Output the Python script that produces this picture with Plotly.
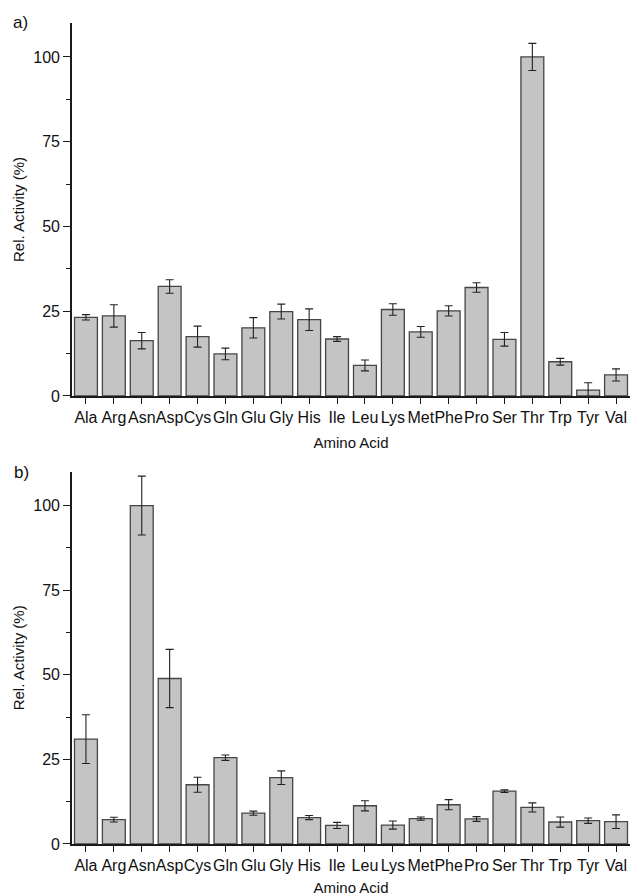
import plotly.graph_objects as go

amino_acids = ["Ala", "Arg", "Asn", "Asp", "Cys", "Gln", "Glu", "Gly", "His", "Ile",
               "Leu", "Lys", "Met", "Phe", "Pro", "Ser", "Thr", "Trp", "Tyr", "Val"]

activity_a = [23.2, 23.6, 16.3, 32.3, 17.5, 12.4, 20.1, 24.9, 22.5, 16.8,
              9.0, 25.5, 18.9, 25.1, 32.0, 16.7, 100.0, 10.1, 1.7, 6.2]
error_a = [0.8, 3.3, 2.4, 2.0, 3.1, 1.7, 3.0, 2.2, 3.2, 0.7,
           1.6, 1.7, 1.6, 1.5, 1.4, 2.0, 4.0, 1.0, 2.2, 1.8]

activity_b = [31.0, 7.2, 100.0, 48.9, 17.5, 25.5, 9.1, 19.6, 7.8, 5.5,
              11.3, 5.6, 7.5, 11.6, 7.4, 15.6, 10.8, 6.5, 6.9, 6.6]
error_b = [7.2, 0.7, 8.7, 8.6, 2.2, 0.8, 0.6, 2.0, 0.6, 0.9,
           1.5, 1.2, 0.5, 1.5, 0.7, 0.4, 1.35, 1.5, 0.8, 2.0]

y_ticks = [0, 25, 50, 75, 100]

FONT = "Liberation Sans, Arial, sans-serif"
BAR_FILL = "#c4c4c4"
BAR_LINE = "#454545"
AXIS_COLOR = "#1a1a1a"

fig = go.Figure()

for vals, errs, xa, ya in [(activity_a, error_a, "x", "y"), (activity_b, error_b, "x2", "y2")]:
    fig.add_trace(go.Bar(
        x=amino_acids, y=vals, xaxis=xa, yaxis=ya,
        marker=dict(color=BAR_FILL, line=dict(color=BAR_LINE, width=1.3)),
        error_y=dict(type="data", array=errs, color="#222222", thickness=1.1, width=4),
        showlegend=False,
    ))

xaxis_common = dict(
    range=[-0.5, 19.5], showline=True, linecolor=AXIS_COLOR, linewidth=1.6,
    ticks="outside", ticklen=6, tickwidth=1.3, tickcolor=AXIS_COLOR, tickangle=0,
    tickfont=dict(family=FONT, size=16, color="#111"), automargin=False,
    showgrid=False, zeroline=False,
    title=dict(text="Amino Acid", font=dict(family=FONT, size=15, color="#111"), standoff=13),
)
yaxis_common = dict(
    range=[0, 110], showline=True, linecolor=AXIS_COLOR, linewidth=1.6,
    ticks="outside", ticklen=7, tickwidth=1.3, tickcolor=AXIS_COLOR,
    tickvals=y_ticks, tickfont=dict(family=FONT, size=16, color="#111"), automargin=False,
    minor=dict(dtick=12.5, ticks="outside", ticklen=4, tickwidth=1.2, tickcolor=AXIS_COLOR),
    showgrid=False, zeroline=False,
    title=dict(text="Rel. Activity (%)", font=dict(family=FONT, size=15, color="#111"), standoff=5),
)

fig.update_layout(
    width=630, height=896,
    margin=dict(l=72, r=0, t=23, b=52),
    paper_bgcolor="white", plot_bgcolor="white",
    bargap=0.18,
    xaxis=dict(**xaxis_common, anchor="y"),
    yaxis=dict(**yaxis_common, domain=[0.5457, 1.0], anchor="x"),
    xaxis2=dict(**xaxis_common, anchor="y2"),
    yaxis2=dict(**yaxis_common, domain=[0.0, 0.4535], anchor="x2"),
    annotations=[
        dict(text="a)", xref="paper", yref="paper", x=-0.093, y=1.001, showarrow=False,
             xanchor="center", yanchor="middle", font=dict(family=FONT, size=17, color="#111")),
        dict(text="b)", xref="paper", yref="paper", x=-0.091, y=0.453, showarrow=False,
             xanchor="center", yanchor="middle", font=dict(family=FONT, size=17, color="#111")),
    ],
)

fig.write_html(
    "out.html",
    config={"displayModeBar": False},
    post_script="document.body.style.margin='0';document.body.style.overflow='hidden';",
)
